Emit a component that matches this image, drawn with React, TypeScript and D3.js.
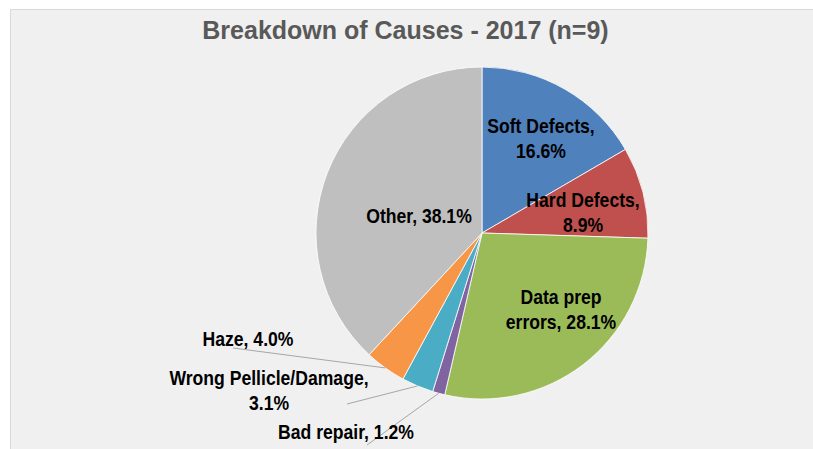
import React from "react";
import * as d3 from "d3";

const categories = [
  "Soft Defects",
  "Hard Defects",
  "Data prep errors",
  "Bad repair",
  "Wrong Pellicle/Damage",
  "Haze",
  "Other",
];
const values = [16.6, 8.9, 28.1, 1.2, 3.1, 4.0, 38.1];
const colors = ["#4f81bd", "#c0504d", "#9bbb59", "#8064a2", "#4bacc6", "#f79646", "#bfbfbf"];
const labelLines = [
  ["Soft Defects,", "16.6%"],
  ["Hard Defects,", "8.9%"],
  ["Data prep", "errors, 28.1%"],
  ["Bad repair, 1.2%"],
  ["Wrong Pellicle/Damage,", "3.1%"],
  ["Haze, 4.0%"],
  ["Other, 38.1%"],
];

const W = 813;
const H = 449;
const cx = 482;
const cy = 233;
const R = 166;

// label layout: center x, first baseline y, line height, leader start (or null)
const labelLayout: { x: number; y: number; lead: [number, number] | null }[] = [
  { x: 541, y: 133, lead: null },
  { x: 583, y: 207, lead: null },
  { x: 561, y: 304, lead: null },
  { x: 346, y: 439, lead: [367, 445] },
  { x: 269, y: 385, lead: [347, 404] },
  { x: 248, y: 346, lead: [233, 348] },
  { x: 419, y: 223, lead: null },
];
const LH = 25;
const SX = 0.88;

export default function App() {
  const data = categories.map((c, i) => ({ c, v: values[i], i }));
  const pie = d3
    .pie<{ c: string; v: number; i: number }>()
    .sort(null)
    .value((d) => d.v)
    .startAngle(0)
    .endAngle(2 * Math.PI);
  const arcs = pie(data);
  const arc = d3.arc<d3.PieArcDatum<any>>().innerRadius(0).outerRadius(R);

  return (
    <svg
      width={W}
      height={H}
      style={{ position: "absolute", left: 0, top: 0, background: "#ffffff" }}
      fontFamily="'Liberation Sans', Arial, sans-serif"
    >
      <rect x={10.5} y={9.5} width={W} height={H} fill="#f0f0f0" stroke="#d9d9d9" strokeWidth={1} />
      <text
        x={405.5}
        y={39}
        textAnchor="middle"
        fontSize={25}
        fontWeight="bold"
        fill="#595959"
      >
        Breakdown of Causes - 2017 (n=9)
      </text>
      <g transform={`translate(${cx},${cy})`}>
        {arcs.map((a, i) => (
          <path key={i} d={arc(a) || ""} fill={colors[i]} stroke="#ffffff" strokeWidth={0.8} />
        ))}
      </g>
      {arcs.map((a, i) => {
        const L = labelLayout[i];
        if (!L.lead) return null;
        const mid = (a.startAngle + a.endAngle) / 2;
        const ex = cx + R * Math.sin(mid);
        const ey = cy - R * Math.cos(mid);
        return (
          <line
            key={"l" + i}
            x1={L.lead[0]}
            y1={L.lead[1]}
            x2={ex}
            y2={ey}
            stroke="#a6a6a6"
            strokeWidth={1}
          />
        );
      })}
      {labelLines.map((lines, i) => {
        const L = labelLayout[i];
        return (
          <g key={"t" + i} transform={`translate(${L.x},${L.y}) scale(${SX},1)`}>
            {lines.map((s, k) => (
              <text
                key={k}
                x={0}
                y={k * LH}
                textAnchor="middle"
                fontSize={20}
                fontWeight="bold"
                fill="#000000"
              >
                {s}
              </text>
            ))}
          </g>
        );
      })}
    </svg>
  );
}
